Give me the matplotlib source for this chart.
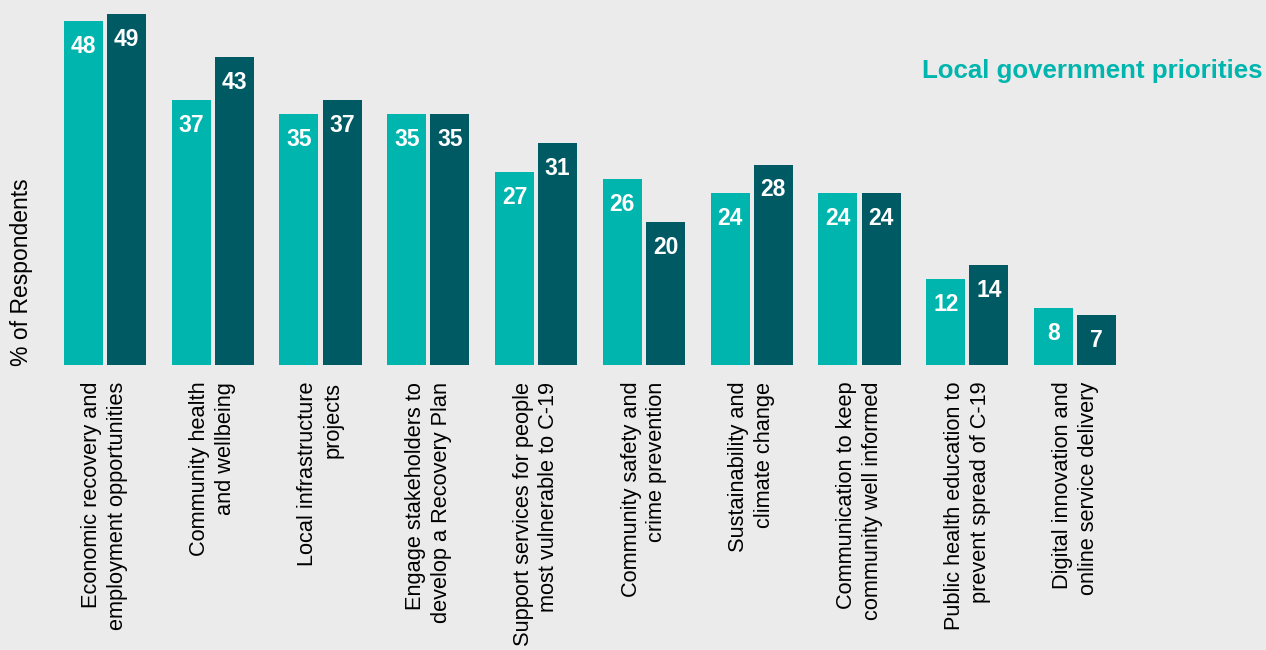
import matplotlib
matplotlib.use("Agg")
import matplotlib.pyplot as plt
import numpy as np

categories = [
    "Economic recovery and\nemployment opportunities",
    "Community health\nand wellbeing",
    "Local infrastructure\nprojects",
    "Engage stakeholders to\ndevelop a Recovery Plan",
    "Support services for people\nmost vulnerable to C-19",
    "Community safety and\ncrime prevention",
    "Sustainability and\nclimate change",
    "Communication to keep\ncommunity well informed",
    "Public health education to\nprevent spread of C-19",
    "Digital innovation and\nonline service delivery",
]
series_a = [48, 37, 35, 35, 27, 26, 24, 24, 12, 8]
series_b = [49, 43, 37, 35, 31, 20, 28, 24, 14, 7]

TEAL = "#00b5ad"
DARK = "#005a64"
BG = "#ebebeb"

fig = plt.figure(figsize=(12.66, 6.5), dpi=100, facecolor=BG)
ax = fig.add_axes([51 / 1266, 285 / 650, 1078 / 1266, 358 / 650])
ax.set_facecolor(BG)

x = np.arange(len(categories))
w = 0.362
off = 0.2
bars_a = ax.bar(x - off, series_a, width=w, color=TEAL)
bars_b = ax.bar(x + off, series_b, width=w, color=DARK)

for bars, vals in ((bars_a, series_a), (bars_b, series_b)):
    for b, v in zip(bars, vals):
        ax.annotate(str(v), (b.get_x() + b.get_width() / 2, v),
                    xytext=(0, -10), textcoords="offset points",
                    ha="center", va="top", color="white",
                    fontsize=16.5, fontweight="bold", family="Liberation Sans")

ax.set_xlim(-0.5, 9.5)
ax.set_ylim(0, 50)
ax.set_yticks([])
ax.set_xticks(x)
ax.set_xticklabels(categories, rotation=90, ha="center", va="top",
                   multialignment="right", fontsize=15.7,
                   family="Liberation Sans", linespacing=1.3)
ax.tick_params(axis="x", length=0, pad=12)
for s in ax.spines.values():
    s.set_visible(False)

fig.text(22 / 1266, 1 - 272 / 650, "% of Respondents", rotation=90,
         ha="center", va="center", fontsize=16.5, family="Liberation Sans")

fig.text(1262 / 1266, 1 - 71 / 650, "Local government priorities",
         ha="right", va="center", color=TEAL, fontsize=18.6,
         fontweight="bold", family="Liberation Sans")

fig.savefig("out.png", dpi=100, facecolor=BG)
